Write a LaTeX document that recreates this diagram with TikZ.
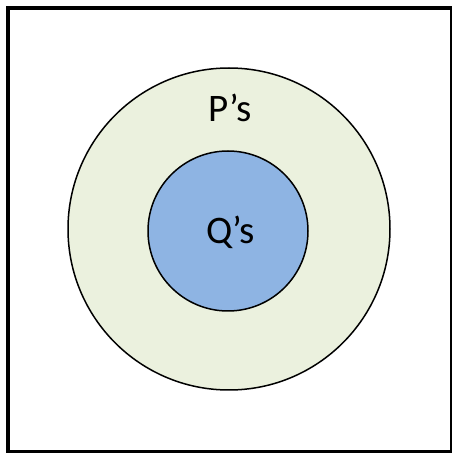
\documentclass[tikz,border=0pt]{standalone}
\usepackage{fontspec}
\setmainfont{Carlito}
\usetikzlibrary{positioning}
\definecolor{outerset}{HTML}{EBF1DE}
\definecolor{innerset}{HTML}{8EB4E3}

\begin{document}
\begin{tikzpicture}[x=1pt, y=1pt,
    setdisc/.style={circle, draw=black, line width=1.5pt, inner sep=0pt},
    setname/.style={font=\fontsize{39}{47}\selectfont, inner sep=0pt}]
  \useasboundingbox (0,0) rectangle (452,453);
  \begin{scope}
    \clip (0,0) rectangle (452,453);
    \draw[line width=4pt] (8,1) rectangle (452,445);
  \end{scope}
  \node[setdisc, fill=outerset, minimum size=322pt] (ps) at (229,224) {};
  \node[setdisc, fill=innerset, minimum size=160pt] (qs) at (228,222) {};
  \node[setname, anchor=base] (plabel) at (230,331) {P’s};
  \node[setname, anchor=base] (qlabel) at (230.5,209) {Q’s};
\end{tikzpicture}
\end{document}
